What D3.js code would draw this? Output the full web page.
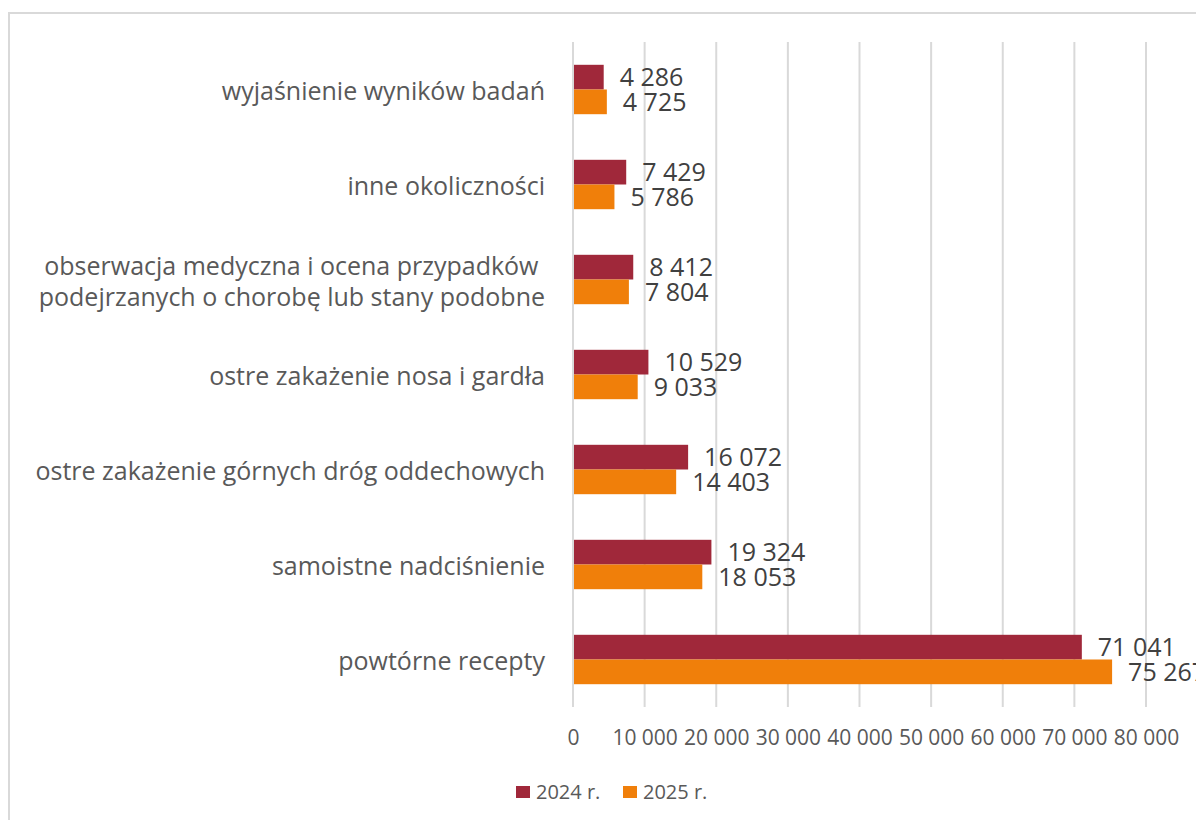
<!DOCTYPE html>
<html>
<head>
<meta charset="utf-8">
<script src="https://cdn.jsdelivr.net/npm/d3@7"></script>
<style>
  body { margin: 0; background: #fff; }
  svg text { font-family: "Segoe UI", "Open Sans", "Noto Sans", sans-serif; }
</style>
</head>
<body>
<div class="canvas"></div>
<script>
const categories = [
  "wyjaśnienie wyników badań",
  "inne okoliczności",
  "obserwacja medyczna i ocena przypadków |podejrzanych o chorobę lub stany podobne",
  "ostre zakażenie nosa i gardła",
  "ostre zakażenie górnych dróg oddechowych",
  "samoistne nadciśnienie",
  "powtórne recepty"
];
const seriesNames = ["2024 r.", "2025 r."];
const values2024 = [4286, 7429, 8412, 10529, 16072, 19324, 71041];
const values2025 = [4725, 5786, 7804, 9033, 14403, 18053, 75267];
const xTicks = [0, 10000, 20000, 30000, 40000, 50000, 60000, 70000, 80000];
const colors = ["#a0283a", "#f07f0a"];

const canvasWidth = 1196, canvasHeight = 820;
const plotLeft = 573, plotRight = 1146, plotTop = 42, plotBottom = 707;

const pl = d3.formatLocale({decimal: ",", thousands: " ", grouping: [3], currency: ["", ""]});
const fmt = pl.format(",d");

const svg = d3.select(".canvas").append("svg")
  .attr("width", canvasWidth)
  .attr("height", canvasHeight);

// outer chart frame (cut off by the picture on the right and bottom)
svg.append("rect")
  .attr("x", 9).attr("y", 13)
  .attr("width", 1300).attr("height", 900)
  .attr("fill", "none")
  .attr("stroke", "#d9d9d9")
  .attr("stroke-width", 2);

const xScale = d3.scaleLinear().domain([0, 80000]).range([plotLeft, plotRight]);
const yScale = d3.scaleBand().domain(categories).range([plotTop, plotBottom])
  .paddingInner(0.48).paddingOuter(0.24);
const sub = d3.scaleBand().domain(seriesNames).range([0, yScale.bandwidth()]);

// gridlines
svg.append("g").selectAll("line")
  .data(xTicks)
  .enter().append("line")
  .attr("x1", d => xScale(d)).attr("x2", d => xScale(d))
  .attr("y1", plotTop).attr("y2", plotBottom)
  .attr("stroke", "#d9d9d9")
  .attr("stroke-width", 2);

// x axis labels
const xAxis = d3.axisBottom(xScale).tickValues(xTicks).tickFormat(fmt).tickSize(0).tickPadding(0);
const gX = svg.append("g")
  .attr("transform", `translate(0, ${plotBottom})`)
  .call(xAxis);
gX.select(".domain").remove();
gX.selectAll("text")
  .attr("y", 31)
  .attr("dy", "0.35em")
  .attr("fill", "#595959")
  .style("font-size", "21px");

// category labels
const yAxis = d3.axisLeft(yScale).tickSize(0).tickPadding(0).tickFormat("");
const gY = svg.append("g").attr("transform", `translate(${plotLeft - 28}, 0)`).call(yAxis);
gY.select(".domain").remove();
gY.selectAll(".tick").each(function(d) {
  const lines = d.split("|");
  const t = d3.select(this).append("text")
    .attr("text-anchor", "end")
    .attr("fill", "#595959")
    .style("font-size", "25px");
  lines.forEach((ln, i) => {
    t.append("tspan")
      .attr("x", 0)
      .attr("y", 2 + (i - (lines.length - 1) / 2) * 31)
      .attr("dy", "0.35em")
      .text(ln);
  });
});

const rows = categories.map((c, i) => ({cat: c, vals: [values2024[i], values2025[i]]}));

const groups = svg.append("g").selectAll("g")
  .data(rows)
  .enter().append("g")
  .attr("transform", d => `translate(0, ${yScale(d.cat)})`);

groups.selectAll("rect")
  .data(d => d.vals.map((v, j) => ({v, s: seriesNames[j], j})))
  .enter().append("rect")
  .attr("x", xScale(0) + 1)
  .attr("y", d => sub(d.s))
  .attr("width", d => xScale(d.v) - xScale(0) - 1)
  .attr("height", sub.bandwidth())
  .attr("fill", d => colors[d.j]);

groups.selectAll("text.val")
  .data(d => d.vals.map((v, j) => ({v, s: seriesNames[j], j})))
  .enter().append("text")
  .attr("class", "val")
  .attr("x", d => xScale(d.v) + 16)
  .attr("y", d => sub(d.s) + sub.bandwidth() / 2)
  .attr("dy", "0.36em")
  .attr("fill", "#404040")
  .style("font-size", "25px")
  .text(d => fmt(d.v));

// legend
const legend = svg.append("g").attr("transform", "translate(516, 792)");
const legX = [0, 107];
seriesNames.forEach((s, i) => {
  const g = legend.append("g").attr("transform", `translate(${legX[i]}, 0)`);
  g.append("rect").attr("x", 0).attr("y", -6).attr("width", 14).attr("height", 12).attr("fill", colors[i]);
  g.append("text").attr("x", 20).attr("y", 0).attr("dy", "0.35em")
    .attr("fill", "#595959").style("font-size", "20px").text(s);
});
</script>
</body>
</html>
